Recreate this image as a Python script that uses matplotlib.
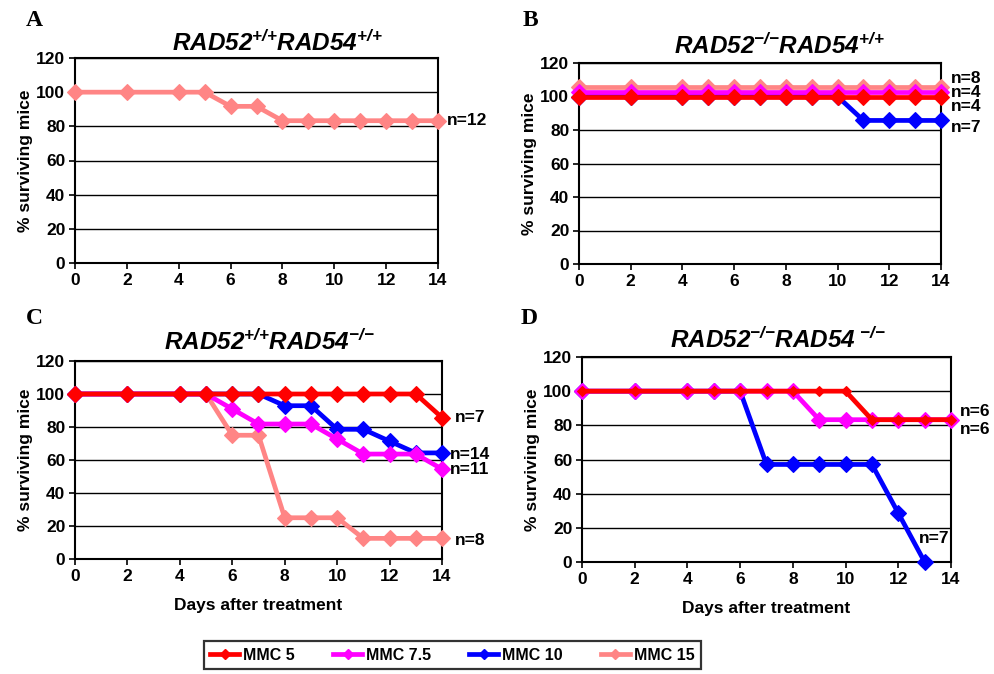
import matplotlib
matplotlib.use("Agg")
import matplotlib.pyplot as plt
from matplotlib.lines import Line2D

plt.rcParams['font.family'] = ['Liberation Sans', 'DejaVu Sans']
plt.rcParams['font.weight'] = 'bold'
plt.rcParams['mathtext.fontset'] = 'custom'
plt.rcParams['mathtext.rm'] = 'Liberation Sans:bold:italic'
plt.rcParams['mathtext.it'] = 'Liberation Sans:bold:italic'
plt.rcParams['mathtext.bf'] = 'Liberation Sans:bold:italic'

# days of observation
days = [0, 2, 4, 5, 6, 7, 8, 9, 10, 11, 12, 13, 14]
days_d10 = [0, 2, 4, 5, 6, 7, 8, 9, 10, 11, 12, 13]

# panel A: RAD52+/+ RAD54+/+
a_mmc15 = [100, 100, 100, 100, 91.7, 91.7, 83.3, 83.3, 83.3, 83.3, 83.3, 83.3, 83.3]

# panel B: RAD52-/- RAD54+/+ (curves at 100 were offset in the original for visibility)
b_mmc5 = [100] * 13
b_mmc75 = [102.7] * 13
b_mmc10 = [100, 100, 100, 100, 100, 100, 100, 100, 100, 85.7, 85.7, 85.7, 85.7]
b_mmc15 = [105.5] * 13

# panel C: RAD52+/+ RAD54-/-
c_mmc5 = [100, 100, 100, 100, 100, 100, 100, 100, 100, 100, 100, 100, 85.7]
c_mmc75 = [100, 100, 100, 100, 90.9, 81.8, 81.8, 81.8, 72.7, 63.6, 63.6, 63.6, 54.5]
c_mmc10 = [100, 100, 100, 100, 100, 100, 92.9, 92.9, 78.6, 78.6, 71.4, 64.3, 64.3]
c_mmc15 = [100, 100, 100, 100, 75, 75, 25, 25, 25, 12.5, 12.5, 12.5, 12.5]

# panel D: RAD52-/- RAD54-/-
d_mmc5 = [100, 100, 100, 100, 100, 100, 100, 100, 100, 83.3, 83.3, 83.3, 83.3]
d_mmc75 = [100, 100, 100, 100, 100, 100, 100, 83.3, 83.3, 83.3, 83.3, 83.3, 83.3]
d_mmc10 = [100, 100, 100, 100, 100, 57.1, 57.1, 57.1, 57.1, 57.1, 28.6, 0]

series_names = ['MMC 5', 'MMC 7.5', 'MMC 10', 'MMC 15']
colors = {'MMC 5': '#FF0000', 'MMC 7.5': '#FF00FF', 'MMC 10': '#0000FF', 'MMC 15': '#FF8585'}

fig = plt.figure(figsize=(9.94, 6.74), dpi=100)

W, H = 994.0, 674.0
def add_ax(left, top, right, bottom):
    return fig.add_axes([left / W, 1 - bottom / H, (right - left) / W, (bottom - top) / H])

axA = add_ax(75, 58, 438, 263)
axB = add_ax(579, 63, 941, 264)
axC = add_ax(75, 361, 442, 559)
axD = add_ax(582, 357, 951, 562)

def style_ax(ax, xlabel=False):
    ax.set_xlim(0, 14)
    ax.set_ylim(0, 120)
    ax.set_xticks(range(0, 15, 2))
    ax.set_yticks(range(0, 121, 20))
    ax.yaxis.grid(True, color='black', linewidth=1.0)
    ax.set_axisbelow(True)
    for s in ax.spines.values():
        s.set_linewidth(1.5)
        s.set_color('black')
    ax.tick_params(direction='out', length=4, width=1.2, labelsize=12.5, pad=3)
    for lab in ax.get_xticklabels() + ax.get_yticklabels():
        lab.set_fontweight('bold')
    ax.set_ylabel('% surviving mice', fontsize=12.5, fontweight='bold', labelpad=2)
    if xlabel:
        ax.set_xlabel('Days after treatment', fontsize=12.5, fontweight='bold', labelpad=10)

def draw(ax, x, y, name, ms=8):
    ax.plot(x, y, color=colors[name], linewidth=3.4, marker='D', markersize=ms,
            markeredgewidth=0.8, markeredgecolor=colors[name], clip_on=False, zorder=3)

# A
style_ax(axA)
draw(axA, days, a_mmc15, 'MMC 15')
axA.text(14.35, 83.3, 'n=12', fontsize=12.5, fontweight='bold', va='center')

# B
style_ax(axB)
draw(axB, days, b_mmc15, 'MMC 15')
draw(axB, days, b_mmc10, 'MMC 10')
draw(axB, days, b_mmc75, 'MMC 7.5')
draw(axB, days, b_mmc5, 'MMC 5')
for yy, t in [(110.5, 'n=8'), (102.2, 'n=4'), (93.8, 'n=4'), (81.3, 'n=7')]:
    axB.text(14.4, yy, t, fontsize=12.5, fontweight='bold', va='center')

# C
style_ax(axC, xlabel=True)
draw(axC, days, c_mmc15, 'MMC 15')
draw(axC, days, c_mmc10, 'MMC 10')
draw(axC, days, c_mmc75, 'MMC 7.5')
draw(axC, days, c_mmc5, 'MMC 5')
for yy, t in [(85.5, 'n=7'), (63.5, 'n=14'), (54.5, 'n=11'), (11.5, 'n=8')]:
    axC.text(14.3 if t in ('n=14', 'n=11') else 14.5, yy, t, fontsize=12.5, fontweight='bold', va='center')

# D
style_ax(axD, xlabel=True)
draw(axD, days_d10, d_mmc10, 'MMC 10')
draw(axD, days, d_mmc75, 'MMC 7.5')
draw(axD, days, d_mmc5, 'MMC 5', ms=5.5)
axD.text(14.35, 88, 'n=6', fontsize=12.5, fontweight='bold', va='center')
axD.text(14.35, 77.5, 'n=6', fontsize=12.5, fontweight='bold', va='center')
axD.text(12.8, 13.5, 'n=7', fontsize=12.5, fontweight='bold', va='center')

# titles
titles = [
    (r'$\mathrm{RAD52}^{{+}/{+}}\mathrm{RAD54}^{{+}/{+}}$', 277, 43),
    (r'$\mathrm{RAD52}^{{-}/{-}}\mathrm{RAD54}^{{+}/{+}}$', 779, 46),
    (r'$\mathrm{RAD52}^{{+}/{+}}\mathrm{RAD54}^{{-}/{-}}$', 269, 342),
    (r'$\mathrm{RAD52}^{{-}/{-}}\mathrm{RAD54}^{\ {-}/{-}}$', 778, 340),
]
for t, x, y in titles:
    fig.text(x / W, 1 - y / H, t, fontsize=17.5, ha='center', va='center')

# panel letters
for letter, x, y in [('A', 26, 20), ('B', 523, 20), ('C', 26, 318), ('D', 521, 318)]:
    fig.text(x / W, 1 - y / H, letter, fontsize=17, fontweight='bold',
             family=['Liberation Serif', 'DejaVu Serif'], ha='left', va='center')

# legend
handles = [Line2D([], [], color=colors[n], linewidth=3.4, marker='D', markersize=5) for n in series_names]
leg = fig.legend(handles, series_names, loc='center', bbox_to_anchor=(452.5 / W, 1 - 655 / H),
                 ncol=4, frameon=True, fancybox=False, fontsize=11.5, handlelength=1.8,
                 handletextpad=0.25, columnspacing=2.4, borderpad=0.4, borderaxespad=0)
leg.get_frame().set_edgecolor('black')
leg.get_frame().set_linewidth(1.6)
for t in leg.get_texts():
    t.set_fontweight('bold')

fig.savefig('out.png', dpi=100)
